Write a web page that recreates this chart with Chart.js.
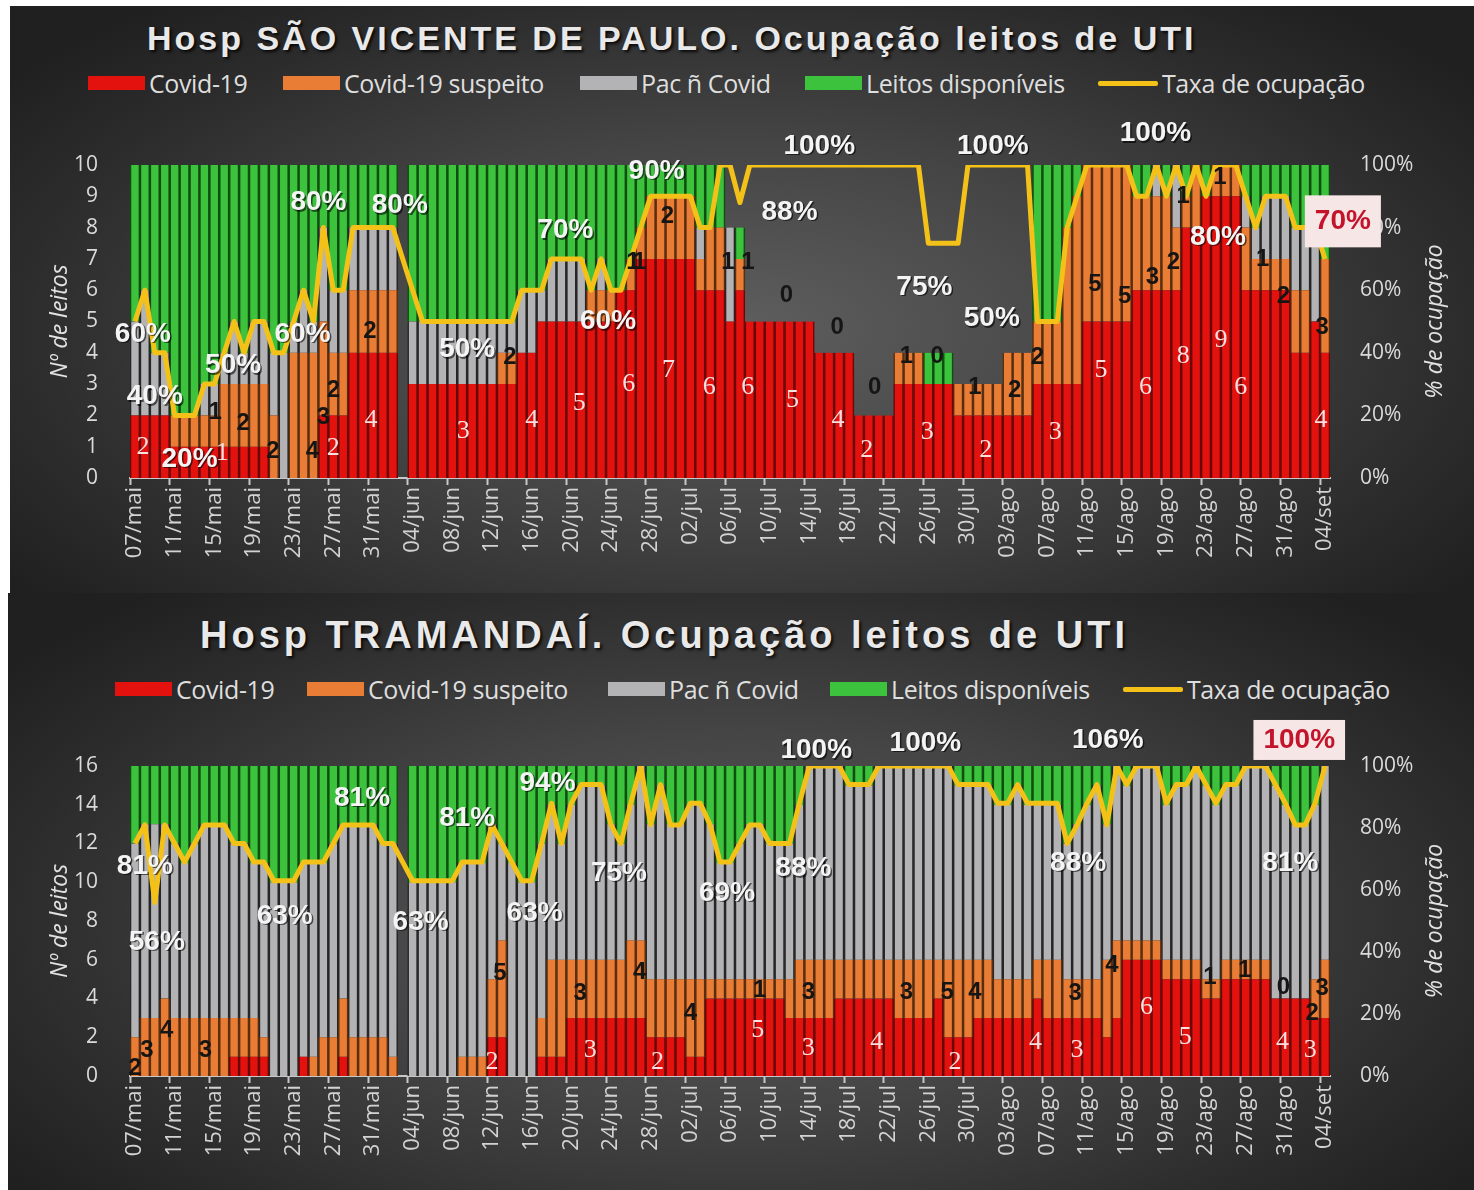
<!DOCTYPE html>
<html>
<head>
<meta charset="utf-8">
<script src="https://cdn.jsdelivr.net/npm/chart.js@4.4.1/dist/chart.umd.min.js"></script>
<style>
  body { margin: 0; background: #ffffff; }
  #wrap { position: relative; width: 1474px; height: 1190px; overflow: hidden; }
  .panel { position: absolute; background: radial-gradient(ellipse 62% 72% at 50% 55%, #5e5e5e 0%, #444 45%, #2c2c2c 80%, #202020 100%); }
  .title { position: absolute; font-family: "Liberation Sans", Arial, sans-serif; font-weight: bold; color: #e9e9e9;
           text-shadow: 2px 2px 3px rgba(0,0,0,0.85); white-space: nowrap; line-height: 40px; }
  .leg { position: absolute; height: 30px; display: flex; align-items: center; font-family: "Open Sans", sans-serif;
         font-size: 25px; letter-spacing: -0.4px; color: #dedede; white-space: nowrap; }
  .leg i { display: inline-block; width: 57px; height: 14px; margin-right: 4px; }
  .leg i.line { width: 60px; height: 5px; border-radius: 2px; }
  .box { position: absolute; }
</style>
</head>
<body>
<div id="wrap">
  <div class="panel" style="left:10px;top:6px;width:1464px;height:587px;"></div>
  <div class="panel" style="left:8px;top:593px;width:1466px;height:597px;"></div>
  <div class="title" style="left:147px;top:18px;font-size:34px;letter-spacing:3px;">Hosp SÃO VICENTE DE PAULO. Ocupação leitos de UTI</div>
  <div class="title" style="left:200px;top:615px;font-size:38px;letter-spacing:4px;">Hosp TRAMANDAÍ. Ocupação leitos de UTI</div>
  <div id="leg1"></div>
  <div id="leg2"></div>
  <div class="box" style="left:0;top:100px;width:1474px;height:490px;"><canvas id="chart1" width="1474" height="490"></canvas></div>
  <div class="box" style="left:0;top:700px;width:1474px;height:490px;"><canvas id="chart2" width="1474" height="490"></canvas></div>
</div>
<script>
// Dias: 07/mai a 04/set
const months = [["mai", 7, 31], ["jun", 1, 30], ["jul", 1, 31], ["ago", 1, 31], ["set", 1, 4]];
const days = [];
months.forEach(([m, a, b]) => {
  for (let d = a; d <= b; d++) days.push(String(d).padStart(2, "0") + "/" + m);
});

const legendNames = ["Covid-19", "Covid-19 suspeito", "Pac ñ Covid", "Leitos disponíveis", "Taxa de ocupação"];
const colors = ["#e3120f", "#ea7d35", "#b3b3b6", "#3cc23c", "#f3c117"];
const gapColors = ["#6a0808", "#5a2e0e", "#262626", "#0f4f0f"];

// ---- Hosp São Vicente de Paulo (10 leitos) ----
const svCovid = [
  2,2,2,2,1,1,1,1,1,1, 1,1,1,1,0,0,0,0,0,2, 2,2,4,4,4,4,4,null,3,3, 3,3,3,3,3,3,3,3,3,4,
  4,5,5,5,5,5,5,5,5,6, 6,7,7,7,7,7,7,6,6,6, 5,6,5,5,5,5,5,5,5,4, 4,4,4,2,2,2,2,3,3,3,
  3,3,3,2,2,2,2,2,2,2, 2,3,3,3,3,3,5,5,5,5, 5,6,6,6,6,6,8,8,9,9, 9,9,6,6,6,6,6,4,4,5, 4];
const svSuspeito = [
  0,0,0,0,1,1,1,1,1,2, 2,2,2,2,2,0,4,4,4,3, 2,2,2,2,2,2,2,null,0,0, 0,0,0,0,0,0,0,1,1,0,
  0,0,0,0,0,0,1,1,1,0, 1,1,2,2,2,2,2,1,2,2, 0,1,0,0,0,0,0,0,0,0, 0,0,0,0,0,0,0,1,1,1,
  0,0,0,1,1,1,1,1,2,2, 2,2,2,2,5,6,5,5,5,5, 5,3,3,3,3,2,1,2,0,1, 1,1,2,1,1,1,1,2,2,0, 3];
const svNaoCovid = [
  3,4,2,2,0,0,0,1,1,1, 2,1,2,2,2,4,1,2,1,3, 2,2,2,2,2,2,2,null,2,2, 2,2,2,2,2,2,2,1,1,2,
  2,1,2,2,2,2,0,1,0,0, 0,0,0,0,0,0,0,1,0,0, 3,0,0,0,0,0,0,0,0,0, 0,0,0,0,0,0,0,0,0,0,
  0,0,0,0,0,0,0,0,0,0, 0,0,0,0,0,0,0,0,0,0, 0,0,0,1,0,2,0,0,0,0, 0,0,1,1,2,2,2,2,2,3, 0];
const svDisponiveis = [
  5,4,6,6,8,8,8,7,7,6, 5,6,5,5,6,6,5,4,5,2, 4,4,2,2,2,2,2,null,5,5, 5,5,5,5,5,5,5,5,5,4,
  4,4,3,3,3,3,4,3,4,4, 3,2,1,1,1,1,1,2,2,2, 0,1,0,0,0,0,0,0,0,0, 0,0,0,0,0,0,0,0,0,0,
  1,1,1,0,0,0,0,0,0,0, 0,5,5,5,2,1,0,0,0,0, 0,1,1,0,1,0,1,0,1,0, 0,0,1,2,1,1,1,2,2,2, 3];
const svTaxa = [
  50,60,40,40,20,20,20,30,30,40, 50,40,50,50,40,40,50,60,50,80, 60,60,80,80,80,80,80,70,60,50,
  50,50,50,50,50,50,50,50,50,60, 60,60,70,70,70,70,60,70,60,60, 70,80,90,90,90,90,90,80,80,100,
  100,88,100,100,100,100,100,100,100,100, 100,100,100,100,100,100,100,100,100,100,
  75,75,75,75,100,100,100,100,100,100, 100,50,50,50,80,90,100,100,100,100,
  100,90,90,100,90,100,90,100,90,100, 100,100,90,80,90,90,90,80,80,80, 70];

// rótulos [dia, valor no eixo, texto]
const svTaxaNotes = [[0.8,46,"60%"],[2,26,"40%"],[5.5,6,"20%"],[9.9,36,"50%"],[16.9,46,"60%"],[18.5,88,"80%"],
  [26.7,87,"80%"],[33.5,41,"50%"],[43.4,79,"70%"],[47.7,50,"60%"],[52.6,98,"90%"],[66,85,"88%"],[69,106,"100%"],
  [79.6,61,"75%"],[86.5,106,"100%"],[86.4,51,"50%"],[102.9,110,"100%"],[109.2,77,"80%"]];
const svTaxaBox = [[121.8,82,"70%"]];
const svCovidNotes = [[0.8,1.0,"2"],[8.8,0.8,"1"],[20,0.95,"2"],[23.8,1.85,"4"],[33.1,1.5,"3"],[40,1.85,"4"],
  [44.8,2.4,"5"],[49.8,3.0,"6"],[53.8,3.45,"7"],[57.9,2.9,"6"],[61.8,2.9,"6"],[66.3,2.5,"5"],[70.9,1.85,"4"],
  [73.8,0.9,"2"],[79.9,1.45,"3"],[85.8,0.9,"2"],[92.8,1.45,"3"],[97.4,3.45,"5"],[101.9,2.9,"6"],[105.7,3.9,"8"],
  [109.5,4.4,"9"],[111.5,2.9,"6"],[119.6,1.85,"4"]];
const svSuspeitoNotes = [[8.1,2.1,"1"],[10.9,1.75,"2"],[13.9,0.85,"2"],[17.9,0.85,"4"],[19,1.95,"3"],[20,2.8,"2"],
  [23.7,4.7,"2"],[37.8,3.85,"2"],[50.2,6.9,"1"],[50.9,6.9,"1"],[53.7,8.35,"2"],[59.8,6.9,"1"],[61.8,6.9,"1"],
  [65.7,5.85,"0"],[70.8,4.8,"0"],[74.6,2.9,"0"],[77.8,3.9,"1"],[80.9,3.9,"0"],[84.7,2.9,"1"],[88.7,2.8,"2"],
  [91,3.85,"2"],[96.8,6.2,"5"],[99.8,5.8,"5"],[102.6,6.4,"3"],[104.7,6.9,"2"],[105.7,9.0,"1"],[109.4,9.6,"1"],
  [113.7,7.0,"1"],[115.8,5.8,"2"],[119.7,4.8,"3"]];

// ---- Hosp Tramandaí (16 leitos) ----
const trCovid = [
  0,0,0,0,0,0,0,0,0,0, 1,1,1,1,0,0,0,1,0,0, 0,1,0,0,0,0,0,null,0,0, 0,0,0,0,0,0,2,2,0,0,
  0,1,1,1,3,3,3,3,3,3, 3,3,2,2,2,2,1,1,4,4, 4,4,4,4,4,4,3,3,3,3, 3,4,4,4,4,4,4,3,3,3,
  3,4,2,2,2,3,3,3,3,3, 3,4,3,3,3,3,3,3,2,3, 6,6,6,6,5,5,5,5,4,4, 5,5,5,5,5,4,4,4,4,3, 3];
const trSuspeito = [
  2,3,3,4,3,3,3,3,3,3, 2,2,2,1,0,0,0,0,1,2, 2,3,2,2,2,2,1,null,0,0, 0,0,0,1,1,1,3,5,0,0,
  0,2,5,5,3,3,3,3,3,3, 4,4,3,3,3,3,4,4,1,1, 1,1,1,1,1,1,2,3,3,3, 3,2,2,2,2,2,2,3,3,3,
  3,2,4,4,4,3,3,2,2,2, 2,2,3,3,2,2,2,2,4,4, 1,1,1,1,1,1,1,1,1,1, 1,1,1,1,1,0,0,0,0,2, 3];
const trNaoCovid = [
  10,10,10,9,9,8,9,10,10,10, 9,9,8,9,10,10,10,10,10,9, 10,9,11,11,11,10,11,null,10,10,
  10,10,10,10,10,10,8,5,11,10, 10,9,8,6,8,9,9,9,7,6, 7,9,8,10,8,8,9,9,8,6,
  6,7,8,8,7,7,7,8,10,10, 10,10,9,9,9,10,10,10,10,10, 10,10,10,9,9,9,9,9,9,10,
  9,8,8,8,7,8,9,10,7,9, 8,9,9,9,8,9,9,10,10,9, 9,9,10,10,10,11,10,9,9,9, 10];
const trDisponiveis = [
  4,3,3,3,4,5,4,3,3,3, 4,4,5,5,6,6,6,5,5,5, 4,3,3,3,3,4,4,null,6,6, 6,6,6,5,5,5,3,4,5,6,
  6,4,2,4,2,1,1,1,3,4, 2,0,3,1,3,3,2,2,3,5, 5,4,3,3,4,4,4,2,0,0, 0,0,1,1,1,0,0,0,0,0,
  0,0,0,1,1,1,1,2,2,1, 2,2,2,2,4,3,2,1,3,0, 1,0,0,0,2,1,1,0,1,2, 1,1,0,0,0,1,2,3,3,2, 0];
const trTaxa = [
  75,81,56,81,75,69,75,81,81,81, 75,75,69,69,63,63,63,69,69,69, 75,81,81,81,81,75,75,69,63,63,
  63,63,63,69,69,69,81,75,69,63, 63,75,88,75,88,94,94,94,81,75, 88,100,81,94,81,81,88,88,81,69,
  69,75,81,81,75,75,75,88,100,100, 100,100,94,94,94,100,100,100,100,100,
  100,100,100,94,94,94,94,88,88,94, 88,88,88,88,75,81,88,94,81,100,
  94,100,100,100,88,94,94,100,94,88, 94,94,100,100,100,94,88,81,81,88, 100];

const trTaxaNotes = [[1,67.7,"81%"],[2.2,43.2,"56%"],[15.1,51.6,"63%"],[22.9,89.7,"81%"],[28.8,49.7,"63%"],
  [33.5,83.2,"81%"],[41.6,94.5,"94%"],[40.3,52.6,"63%"],[48.8,65.5,"75%"],[59.7,59,"69%"],[67.4,67,"88%"],
  [68.7,105,"100%"],[79.7,107.4,"100%"],[98.1,108.4,"106%"],[95.1,68.7,"88%"],[116.5,68.7,"81%"]];
const trTaxaBox = [[117.4,108.4,"100%"]];
const trCovidNotes = [[36,0.72,"2"],[45.9,1.34,"3"],[52.7,0.72,"2"],[62.8,2.37,"5"],[67.9,1.45,"3"],[74.8,1.76,"4"],
  [82.7,0.72,"2"],[90.8,1.76,"4"],[95,1.34,"3"],[102,3.56,"6"],[105.9,2.0,"5"],[115.7,1.76,"4"],[118.5,1.34,"3"]];
const trSuspeitoNotes = [[0,0.4,"2"],[1.2,1.34,"3"],[3.2,2.37,"4"],[7.1,1.34,"3"],[36.8,5.3,"5"],[44.9,4.28,"3"],
  [50.9,5.37,"4"],[56,3.25,"4"],[63,4.44,"1"],[67.9,4.34,"3"],[77.8,4.34,"3"],[81.9,4.34,"5"],[84.7,4.34,"4"],
  [94.8,4.28,"3"],[98.5,5.73,"4"],[108.4,5.1,"1"],[111.9,5.47,"1"],[115.8,4.6,"0"],[118.7,3.25,"2"],[119.7,4.54,"3"]];

// legenda em HTML
function buildLegend(id, top, xs) {
  const holder = document.getElementById(id);
  legendNames.forEach((name, k) => {
    const el = document.createElement("div");
    el.className = "leg";
    el.style.left = xs[k] + "px";
    el.style.top = top + "px";
    el.innerHTML = `<i class="${k === 4 ? "line" : ""}" style="background:${colors[k]}"></i>${name}`;
    holder.appendChild(el);
  });
}
buildLegend("leg1", 68, [88, 283, 580, 805, 1098]);
buildLegend("leg2", 674, [115, 307, 608, 830, 1123]);

// rótulos de dados desenhados por cima
const notesPlugin = {
  id: "notes",
  afterDatasetsDraw(chart, args, opts) {
    const ctx = chart.ctx;
    const xs = chart.scales.x;
    ctx.save();
    ctx.textAlign = "center";
    ctx.textBaseline = "middle";
    opts.groups.forEach(g => {
      const ys = chart.scales[g.axis];
      ctx.font = g.font;
      g.items.forEach(([i, v, t]) => {
        const px = xs.getPixelForValue(i), py = ys.getPixelForValue(v);
        if (g.box) {
          const w = ctx.measureText(t).width + 20;
          ctx.fillStyle = g.box;
          ctx.fillRect(px - w / 2, py - g.boxH / 2, w, g.boxH);
        }
        if (g.shadow) {
          ctx.fillStyle = g.shadow;
          ctx.fillText(t, px + 1.5, py + 1.5);
        }
        ctx.fillStyle = g.color;
        ctx.fillText(t, px, py);
      });
    });
    ctx.restore();
  }
};

// títulos dos eixos (ambos lidos de baixo para cima)
const axisTitles = {
  id: "axisTitles",
  afterDraw(chart) {
    const ctx = chart.ctx, a = chart.chartArea;
    const cy = (a.top + a.bottom) / 2;
    ctx.save();
    ctx.fillStyle = "#e2e2e2";
    ctx.font = "italic 23px 'Open Sans', sans-serif";
    ctx.textAlign = "center";
    ctx.textBaseline = "middle";
    [[60, "Nº de leitos"], [1435, "% de ocupação"]].forEach(([x, t]) => {
      ctx.save();
      ctx.translate(x, cy);
      ctx.rotate(-Math.PI / 2);
      ctx.fillText(t, 0, 0);
      ctx.restore();
    });
    ctx.restore();
  }
};

function barSet(k, data) {
  return {
    label: legendNames[k], data, backgroundColor: colors[k], borderColor: gapColors[k],
    borderWidth: { left: 1.6, right: 1.6, top: 0, bottom: 0 }, borderSkipped: false,
    barPercentage: 1, categoryPercentage: 1, order: 1, yAxisID: "y"
  };
}

function makeChart(id, s) {
  const tickFont = { family: "'Open Sans', sans-serif", size: 21 };
  return new Chart(document.getElementById(id), {
    type: "bar",
    data: {
      labels: days,
      datasets: [
        { type: "line", label: legendNames[4], data: s.taxa, borderColor: colors[4], borderWidth: 5,
          pointRadius: 0, tension: 0, yAxisID: "y1", order: 0, borderJoinStyle: "round" },
        barSet(0, s.covid), barSet(1, s.suspeito), barSet(2, s.nao), barSet(3, s.livres)
      ]
    },
    options: {
      responsive: false,
      animation: false,
      layout: { padding: { top: s.top, left: 0, right: 0, bottom: 0 } },
      plugins: {
        legend: { display: false },
        tooltip: { enabled: false },
        notes: {
          groups: [
            { axis: "y1", items: s.taxaNotes, font: "bold 28px 'Liberation Sans', Arial", color: "#f4f4f4", shadow: "rgba(0,0,0,0.6)" },
            { axis: "y", items: s.covidNotes, font: "26px 'Liberation Serif', serif", color: "#f9e0e0" },
            { axis: "y", items: s.suspNotes, font: "bold 24px 'Liberation Sans', Arial", color: "#151515" },
            { axis: "y1", items: s.box, font: "bold 28px 'Liberation Sans', Arial", color: "#c4142b", box: "#f6e6e6", boxH: s.boxH }
          ]
        }
      },
      scales: {
        x: {
          stacked: true,
          offset: true,
          grid: { display: true, drawOnChartArea: false, drawTicks: true, tickLength: 7, tickWidth: 2,
                  tickColor: c => (c.index % 4 === 0 ? "#c8c8c8" : "rgba(0,0,0,0)") },
          border: { color: "#c8c8c8", width: 2 },
          ticks: { autoSkip: false, minRotation: 90, maxRotation: 90, padding: 2, color: "#d2d2d2",
                   font: { family: "'Open Sans', sans-serif", size: 22 },
                   callback: (v, i) => (i % 4 === 0 ? days[i] : "") },
          afterFit: sc => { sc.height = s.xh; }
        },
        y: {
          stacked: true, min: 0, max: s.max,
          grid: { display: false }, border: { display: false },
          ticks: { stepSize: s.step, padding: 24, color: "#dadada", font: tickFont },
          afterFit: sc => { sc.width = 130; }
        },
        y1: {
          position: "right", min: 0, max: 100,
          grid: { display: false }, border: { display: false },
          ticks: { stepSize: 20, padding: 22, color: "#dadada", font: tickFont, callback: v => v + "%" },
          afterFit: sc => { sc.width = 144; }
        }
      }
    },
    plugins: [notesPlugin, axisTitles]
  });
}

makeChart("chart1", {
  covid: svCovid, suspeito: svSuspeito, nao: svNaoCovid, livres: svDisponiveis, taxa: svTaxa,
  taxaNotes: svTaxaNotes, covidNotes: svCovidNotes, suspNotes: svSuspeitoNotes, box: svTaxaBox, boxH: 52,
  max: 10, step: 1, top: 65, xh: 112
});
makeChart("chart2", {
  covid: trCovid, suspeito: trSuspeito, nao: trNaoCovid, livres: trDisponiveis, taxa: trTaxa,
  taxaNotes: trTaxaNotes, covidNotes: trCovidNotes, suspNotes: trSuspeitoNotes, box: trTaxaBox, boxH: 40,
  max: 16, step: 2, top: 66, xh: 114
});
</script>
</body>
</html>
